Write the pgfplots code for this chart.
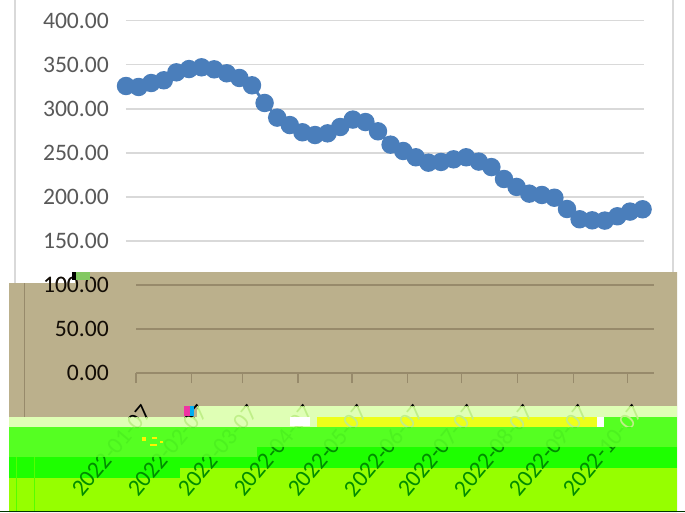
\documentclass[border=0pt]{standalone}
\usepackage{pgfplots}
\pgfplotsset{compat=1.18}
\usepackage{fontspec}
\setmainfont{Carlito}
\definecolor{tan0}{HTML}{BBB08C}
\definecolor{tanline}{HTML}{978A6B}
\definecolor{pale}{HTML}{DFFFB5}
\definecolor{midg}{HTML}{55FF22}
\definecolor{deepg}{HTML}{1EFF00}
\definecolor{lime}{HTML}{96FF00}
\definecolor{yel}{HTML}{EDFF1A}
\definecolor{ser}{HTML}{4A7EBB}
\definecolor{txtpale}{HTML}{BFEF88}
\definecolor{txtmid}{HTML}{4CF21F}
\definecolor{gridl}{HTML}{D9D9D9}
\newcommand\tfont{\fontsize{23.6}{25}\selectfont}
\newcommand\R[5]{\fill[#1] (#2,{512-#3}) rectangle (#4,{512-#5});}
\newcommand\BottomAxis[1]{%
\begin{axis}[at={(136pt,139pt)},anchor=south west,scale only axis,width=518pt,height=88.2pt,
 xmin=0,xmax=287.8,ymin=0,ymax=100,
 axis y line*=left,axis x line*=bottom,
 y axis line style={draw=none},
 x axis line style={draw=tanline,line width=1.6pt},
 ytick={0,50,100},
 yticklabel style={color=black!90!brown,font=\tfont,anchor=east,inner sep=0pt,xshift=-17pt,
   /pgf/number format/.cd,fixed,fixed zerofill,precision=2,assume math mode=true},
 ymajorgrids,
 grid style={tanline,line width=1.6pt},
 major y tick style={draw=none},
 xtick={0,31,59,90,120,151,181,212,243,273},
 xticklabels={2022-01-07,2022-02-07,2022-03-07,2022-04-07,2022-05-07,2022-06-07,2022-07-07,2022-08-07,2022-09-07,2022-10-07},
 xticklabel style={color=#1,font=\tfont,rotate=50,anchor=north east,inner sep=0pt,xshift=-12pt,yshift=-17pt},
 x tick style={tanline,line width=1.3pt},
 tick align=outside,major tick length=10pt,
]
\addplot[draw=none,forget plot] coordinates {(0,0)};
\end{axis}}
\begin{document}
\begin{tikzpicture}[x=1pt,y=1pt]
\useasboundingbox (0,0) rectangle (685,512);
\fill[white] (0,0) rectangle (685,512);
\draw[draw=gridl,line width=2pt] (15,512) -- (15,229);
\draw[draw=gridl,line width=2pt] (673,512) -- (673,240);
\begin{axis}[at={(126pt,226.6pt)},anchor=south west,scale only axis,width=517.5pt,height=264.9pt,
 xmin=0,xmax=287.5,ymin=100,ymax=400,
 axis line style={draw=none},
 ytick={100,150,...,400},xtick=\empty,
 yticklabel style={color=black!65,font=\tfont,anchor=east,inner sep=0pt,xshift=-17pt,
   /pgf/number format/.cd,fixed,fixed zerofill,precision=2,assume math mode=true},
 ymajorgrids,grid style={gridl,line width=1.7pt},
 major y tick style={draw=none},major tick length=0pt,clip=false]
\addplot[ser,line width=2.8pt,mark=*,mark size=7.8pt,mark options={fill=ser,draw=none}] table {
0 325.8
7 324.7
14 329.2
21 332.3
28 341.3
35 345
42 347
49 344.7
56 340.2
63 334.9
70 326.6
77 306.6
84 290
91 281.6
98 273.4
105 270.3
112 272.2
119 279.4
126 287.8
133 285
140 274.5
147 259.4
154 252.2
161 245.1
168 239
175 239.8
182 242.8
189 245.1
196 240.2
203 234
210 220.5
217 211.5
224 203.9
231 202.4
238 199.3
245 186.5
252 174.9
259 173.7
266 173.4
273 178.3
280 183.6
287 186.2
};
\end{axis}
% corrupted bands of the reference
\fill[tan0] (9,0) -- (9,229) -- (75,229) -- (75,240) -- (677,240) -- (677,0) -- cycle;
\R{tanline}{23.5}{283}{25}{417}
\R{pale}{9}{417}{197}{427}
\R{pale}{197}{406}{677}{417}
\R{pale}{197}{417}{317}{427}
\R{yel}{317}{417}{597}{427}
\R{white}{597}{417}{604}{427}
\R{midg}{604}{417}{677}{427}
\R{midg}{9}{427}{677}{457}
\R{deepg}{257}{447}{677}{468}
\R{deepg}{9}{457}{257}{468}
\R{deepg}{9}{468}{180}{478}
\R{lime}{180}{468}{677}{511}
\R{lime}{9}{478}{180}{511}
\R{deepg!55!lime}{16.3}{457}{17.3}{511}
\R{deepg!55!lime}{34}{457}{35}{511}
\R{black!80!green}{0}{511}{685}{512}
\R{yellow}{142}{437}{146}{441}
\R{yellow}{152}{437}{157}{439}
\R{yellow}{150}{444}{157}{446}
\R{yellow}{160}{441}{163}{443}
% axis with labels, colour changes with the band behind the text
\begin{scope}
\clip (9,0) rectangle (677,512);
\begin{scope}\clip (0,512) -- (685,512) -- (685,106) -- (197,106) -- (197,95) -- (0,95) -- cycle; \BottomAxis{black}\end{scope}
\begin{scope}\clip (0,95) -- (197,95) -- (197,106) -- (685,106) -- (685,85) -- (0,85) -- cycle; \BottomAxis{txtpale}\end{scope}
\begin{scope}\clip (0,85) -- (685,85) -- (685,65) -- (257,65) -- (257,55) -- (0,55) -- cycle; \BottomAxis{txtmid}\end{scope}
\begin{scope}\clip (0,55) -- (257,55) -- (257,65) -- (685,65) -- (685,0) -- (0,0) -- cycle; \BottomAxis{green!55!black}\end{scope}
\end{scope}
\R{black}{72}{272}{76}{280}
\R{tan0!70!green}{76}{272}{90}{280}
\R{magenta!80}{184}{406}{190}{416}
\R{cyan}{190}{406}{194}{416}
\R{white}{290}{417}{310}{426}
\end{tikzpicture}
\end{document}
